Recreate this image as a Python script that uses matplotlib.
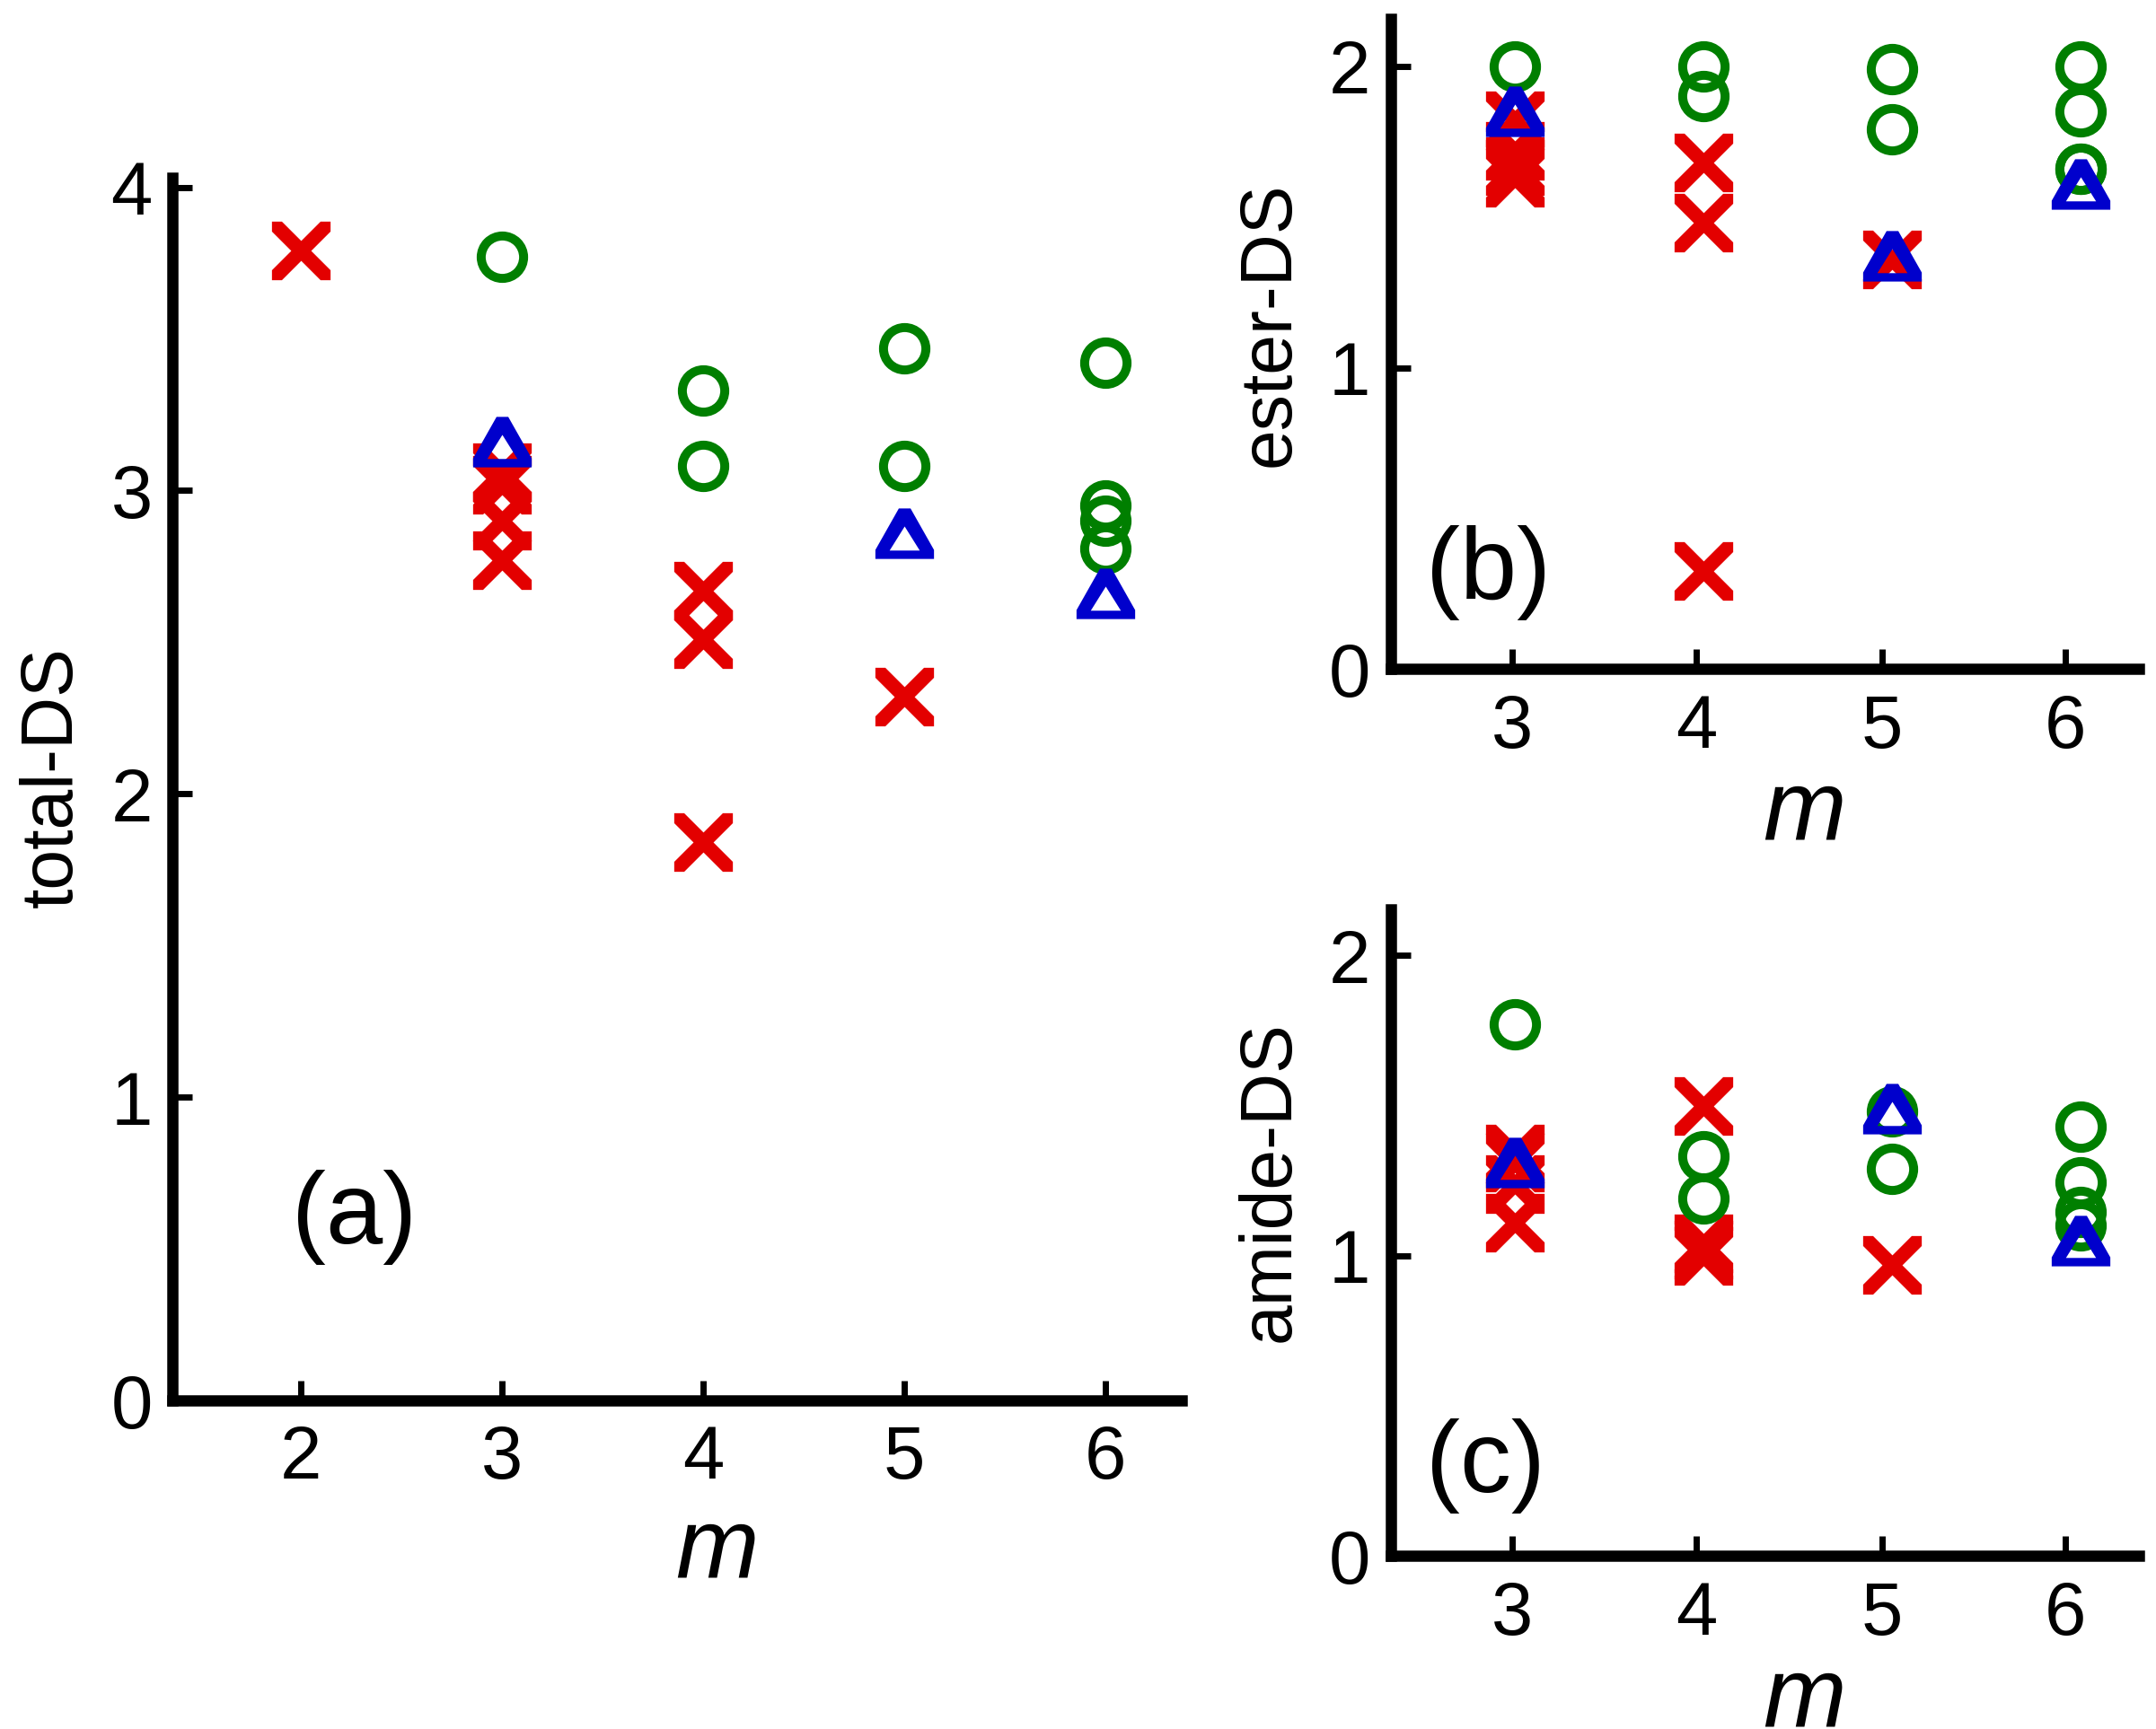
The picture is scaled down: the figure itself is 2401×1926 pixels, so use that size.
import numpy as np
import matplotlib.pyplot as plt
from matplotlib.path import Path

plt.rcParams['font.family'] = ['Liberation Sans', 'DejaVu Sans']

# panel (a): total-DS vs m
a_cross_m = [2, 3, 3, 3, 3, 4, 4, 4, 5]
a_cross_y = [3.79, 3.06, 3.02, 2.90, 2.77, 2.67, 2.51, 1.84, 2.32]
a_circ_m = [3, 4, 4, 5, 5, 6, 6, 6, 6]
a_circ_y = [3.77, 3.33, 3.08, 3.47, 3.08, 3.42, 2.95, 2.90, 2.81]
a_tri_m = [3, 5, 6]
a_tri_y = [3.16, 2.86, 2.66]

# panel (b): ester-DS vs m
b_cross_m = [3, 3, 3, 3, 4, 4, 4, 5]
b_cross_y = [1.82, 1.72, 1.67, 1.63, 1.68, 1.48, 0.325, 1.36]
b_circ_m = [3, 4, 4, 5, 5, 6, 6, 6, 6]
b_circ_y = [2.00, 2.00, 1.90, 1.99, 1.79, 2.00, 1.85, 1.66, 1.66]
b_tri_m = [3, 5, 6]
b_tri_y = [1.85, 1.37, 1.61]

# panel (c): amide-DS vs m
c_cross_m = [3, 3, 3, 3, 4, 4, 4, 4, 5]
c_cross_y = [1.34, 1.31, 1.24, 1.11, 1.50, 1.04, 1.02, 1.00, 0.97]
c_circ_m = [3, 4, 4, 5, 5, 6, 6, 6, 6]
c_circ_y = [1.77, 1.33, 1.19, 1.48, 1.29, 1.43, 1.245, 1.145, 1.10]
c_tri_m = [3, 5, 6]
c_tri_y = [1.31, 1.49, 1.05]

red = '#e30000'
green = '#007f00'
blue = '#0000cc'

# cross with square-cut ends (filled)
d = 0.34
cross_path = Path([(-1, 1), (-1 + d, 1), (0, d), (1 - d, 1), (1, 1), (1, 1 - d), (d, 0),
                   (1, -1 + d), (1, -1), (1 - d, -1), (0, -d), (-1 + d, -1), (-1, -1),
                   (-1, -1 + d), (-d, 0), (-1, 1 - d), (-1, 1)])

# open triangle with a blunt top (outer ring + hole)
outer = [(-32.5, -28), (32.5, -28), (32.5, -18), (6.5, 28), (-6.5, 28), (-32.5, -18), (-32.5, -28)]
inner = [(-16.7, -18.7), (0, 8), (16.7, -18.7), (-16.7, -18.7)]
tri_path = Path(outer + inner,
                [Path.MOVETO] + [Path.LINETO] * 5 + [Path.CLOSEPOLY] +
                [Path.MOVETO] + [Path.LINETO] * 2 + [Path.CLOSEPOLY])

fig = plt.figure(figsize=(24.01, 19.26), dpi=100)
ax_a = fig.add_axes([0.080, 0.190, 0.468, 0.707])
ax_b = fig.add_axes([0.645, 0.613, 0.347, 0.376])
ax_c = fig.add_axes([0.645, 0.100, 0.347, 0.374])


def draw(ax, cm, cy, om, oy, tm, ty):
    ax.plot(cm, cy, ls='none', marker=cross_path, ms=47, mew=0, color=red, clip_on=False)
    ax.plot(om, oy, ls='none', marker='o', ms=34, mew=7.2, mfc='none', mec=green, clip_on=False)
    ax.plot(tm, ty, ls='none', marker=tri_path, ms=47, mew=0, color=blue, clip_on=False)


def style(ax):
    for s in ['top', 'right']:
        ax.spines[s].set_visible(False)
    for s in ['left', 'bottom']:
        ax.spines[s].set_linewidth(9)
    ax.tick_params(direction='in', length=16, width=5, labelsize=60)
    ax.tick_params(axis='y', pad=16)
    ax.tick_params(axis='x', pad=19)


draw(ax_a, a_cross_m, a_cross_y, a_circ_m, a_circ_y, a_tri_m, a_tri_y)
style(ax_a)
ax_a.set_xlim(1.36, 6.38)
ax_a.set_ylim(0, 4.03)
ax_a.set_xticks([2, 3, 4, 5, 6])
ax_a.set_yticks([0, 1, 2, 3, 4])
ax_a.set_ylabel('total-DS', fontsize=58)
ax_a.yaxis.set_label_coords(-0.085, 0.51)
ax_a.set_xlabel('m', fontsize=80, style='italic')
ax_a.xaxis.set_label_coords(0.54, -0.085)
ax_a.text(0.118, 0.15, '(a)', transform=ax_a.transAxes, fontsize=82, va='center')

# ticks of (b) and (c) sit a little left of the data columns
tick_pos = [2.984, 3.961, 4.948, 5.922]
for ax in (ax_b, ax_c):
    style(ax)
    ax.set_xlim(2.34, 6.31)
    ax.set_xticks(tick_pos)
    ax.set_xticklabels(['3', '4', '5', '6'])
    ax.set_yticks([0, 1, 2])
    ax.set_xlabel('m', fontsize=80, style='italic')
    ax.xaxis.set_label_coords(0.553, -0.15)

draw(ax_b, b_cross_m, b_cross_y, b_circ_m, b_circ_y, b_tri_m, b_tri_y)
ax_b.set_ylim(0, 2.157)
ax_b.set_ylabel('ester-DS', fontsize=58)
ax_b.yaxis.set_label_coords(-0.115, 0.53)
ax_b.text(0.047, 0.148, '(b)', transform=ax_b.transAxes, fontsize=82, va='center')

draw(ax_c, c_cross_m, c_cross_y, c_circ_m, c_circ_y, c_tri_m, c_tri_y)
ax_c.set_ylim(0, 2.153)
ax_c.set_ylabel('amide-DS', fontsize=58)
ax_c.yaxis.set_label_coords(-0.115, 0.58)
ax_c.text(0.047, 0.14, '(c)', transform=ax_c.transAxes, fontsize=82, va='center')

fig.savefig('out.png', dpi=100)
